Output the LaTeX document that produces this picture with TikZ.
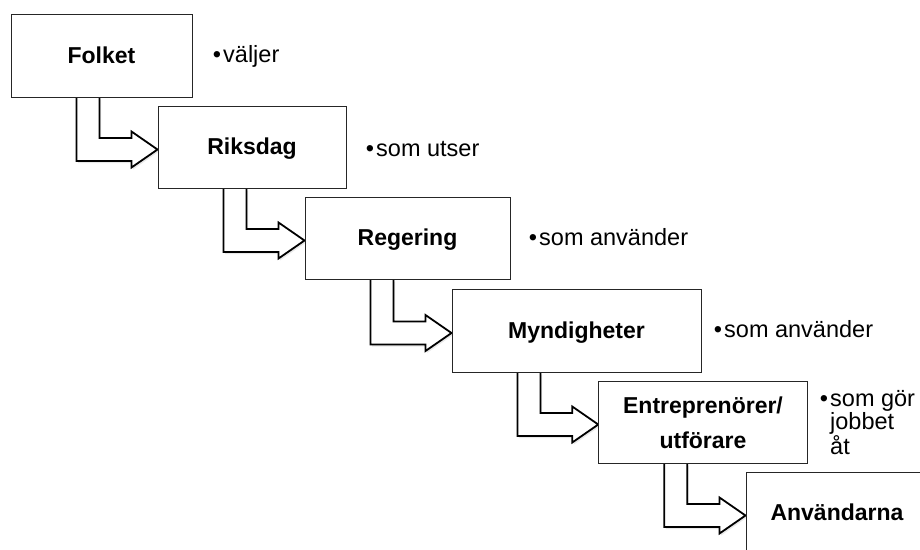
\documentclass[tikz,border=0pt]{standalone}
\usepackage{fontspec}
\setmainfont{Liberation Sans}
\usetikzlibrary{calc,shadows,backgrounds}
\newcommand\bentarr[2]{%
  \draw[bentarrow] let \p1=(#1.south west), \p2=(#2.west) in
    (\x1+66pt,\y1) -- (\x1+66pt,\y2-14pt) -- (\x2-26pt,\y2-14pt) -- (\x2-26pt,\y2-20.5pt)
    -- (\x2,\y2-2.5pt) -- (\x2-26pt,\y2+15.5pt) -- (\x2-26pt,\y2+9pt) -- (\x1+89pt,\y2+9pt)
    -- (\x1+89pt,\y1);}
\newcommand\blt{\llap{•\hspace{2pt}}}
\begin{document}
\begin{tikzpicture}[x=1pt,y=-1pt,
  stepbox/.style={draw=black!85, line width=1pt, fill=white, inner sep=0pt,
    font=\fontsize{23}{35}\selectfont\bfseries, text height=15.5pt, text depth=0pt, align=center},
  bullettext/.style={anchor=base west, inner sep=0pt, font=\fontsize{23.5}{23}\selectfont, align=left},
  bentarrow/.style={draw=black, line width=1.8pt, fill=white, line join=miter,
    drop shadow={shadow xshift=1.5pt, shadow yshift=-2pt, opacity=0.18}}
]
\useasboundingbox (0,0) rectangle (920,549);
\clip (0,0) rectangle (920,549);
% boxes
\node[stepbox, minimum width=181pt, minimum height=83pt] (folket) at (101.5,55.5) {Folket};
\node[stepbox, minimum width=188pt, minimum height=82pt] (riksdag) at (252,147) {Riksdag};
\node[stepbox, minimum width=205pt, minimum height=82pt] (regering) at (407.5,238) {Regering};
\node[stepbox, minimum width=249pt, minimum height=83pt] (myndigheter) at (576.5,330.5) {Myndigheter};
\node[stepbox, minimum width=208.5pt, minimum height=82pt, text height=52pt, text depth=0pt] (entre) at (703,422) {Entreprenörer/\\utförare};
\node[stepbox, minimum width=182pt, minimum height=82pt] (anv) at (837,513) {Användarna};
% bullet texts
\node[bullettext] (t1) at (223,62) {\blt väljer};
\node[bullettext] (t2) at (376,156) {\blt som utser};
\node[bullettext] (t3) at (539,245) {\blt som använder};
\node[bullettext] (t4) at (724,337) {\blt som använder};
\node[bullettext] (t5) at (830,454) {\blt som gör\\jobbet\\åt};
% bent arrows
\begin{pgfonlayer}{background}
\bentarr{folket}{riksdag}
\bentarr{riksdag}{regering}
\bentarr{regering}{myndigheter}
\bentarr{myndigheter}{entre}
\bentarr{entre}{anv}
\end{pgfonlayer}
\end{tikzpicture}
\end{document}
